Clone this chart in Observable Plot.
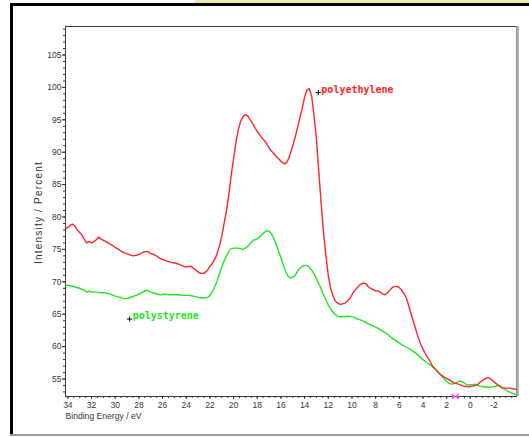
<!DOCTYPE html>
<html><head><meta charset="utf-8">
<script src="https://cdn.jsdelivr.net/npm/d3@7"></script>
<script src="https://cdn.jsdelivr.net/npm/@observablehq/plot@0.6"></script>
<style>
body{margin:0;background:#fff;width:529px;height:437px;overflow:hidden;position:relative}
#chart{position:absolute;left:0;top:0}
.deco{position:absolute;pointer-events:none}
</style></head><body>
<div id="chart"></div>
<div class="deco" style="left:195px;top:0;width:334px;height:3px;background:#efe7b5"></div>
<div class="deco" style="left:10px;top:3px;width:519px;height:3px;background:#000"></div>
<div class="deco" style="left:10px;top:3px;width:3px;height:432px;background:#000"></div>
<div class="deco" style="left:10px;top:434px;width:519px;height:2px;background:#9a9a9a"></div>
<script>
// Polyethylene spectrum (binding energy eV, intensity %)
const peEnergy = [34.2,34.0,33.8,33.6,33.4,33.2,33.0,32.8,32.6,32.4,32.2,32.0,31.8,31.6,31.4,31.2,31.0,30.8,30.5,30.2,30.0,29.7,29.4,29.1,28.8,28.5,28.2,27.9,27.6,27.3,27.0,26.6,26.2,25.8,25.3,24.9,24.5,24.1,23.6,23.2,22.8,22.5,22.2,22.0,21.8,21.5,21.2,21.0,20.8,20.6,20.4,20.2,20.0,19.8,19.6,19.4,19.2,19.0,18.8,18.6,18.4,18.2,18.0,17.8,17.6,17.4,17.2,17.0,16.8,16.6,16.4,16.2,16.0,15.8,15.6,15.4,15.2,15.0,14.8,14.6,14.4,14.2,14.0,13.8,13.6,13.4,13.2,13.0,12.8,12.6,12.4,12.2,12.0,11.8,11.6,11.4,11.2,11.0,10.8,10.6,10.4,10.2,10.0,9.8,9.6,9.4,9.2,9.0,8.8,8.6,8.4,8.2,8.0,7.8,7.6,7.4,7.2,7.0,6.8,6.6,6.4,6.2,6.0,5.8,5.6,5.4,5.2,5.0,4.8,4.6,4.4,4.2,4.0,3.8,3.6,3.4,3.2,3.0,2.6,2.2,1.8,1.4,1.0,0.6,0.2,-0.2,-0.6,-0.9,-1.2,-1.5,-1.8,-2.1,-2.4,-2.7,-3.0,-3.3,-3.6,-3.9];
const peIntensity = [78.2,78.4,78.7,78.9,78.6,78.0,77.6,77.2,76.5,76.0,76.2,76.0,76.2,76.5,76.9,76.6,76.4,76.2,75.9,75.6,75.3,75.0,74.6,74.4,74.2,74.0,74.1,74.3,74.6,74.7,74.4,74.1,73.6,73.3,73.0,72.9,72.6,72.3,72.4,71.8,71.3,71.3,71.8,72.4,72.8,73.8,75.5,77.0,79.0,81.0,83.5,86.5,89.0,91.5,93.5,94.8,95.5,95.8,95.6,95.0,94.5,93.8,93.2,92.7,92.2,91.8,91.3,90.6,90.2,89.8,89.3,89.0,88.6,88.3,88.2,88.8,89.8,91.0,92.3,93.8,95.3,96.8,98.5,99.6,99.8,98.6,95.5,92.0,87.0,82.0,77.5,74.0,71.0,69.0,67.8,67.0,66.7,66.5,66.6,66.7,67.0,67.4,68.0,68.6,69.0,69.4,69.7,69.8,69.7,69.2,69.0,68.8,68.6,68.6,68.4,68.1,68.0,68.3,68.7,69.1,69.3,69.3,69.1,68.7,68.2,67.5,66.3,65.0,63.8,62.6,61.4,60.4,59.6,58.9,58.3,57.7,57.0,56.6,55.8,55.3,54.9,54.4,54.2,53.9,53.8,53.9,54.1,54.6,55.0,55.2,54.9,54.4,54.0,53.6,53.6,53.6,53.5,53.4];
// Polystyrene spectrum
const psEnergy = [34.2,33.8,33.4,33.0,32.6,32.4,32.2,32.0,31.6,31.2,30.8,30.4,30.0,29.6,29.2,28.8,28.4,28.0,27.6,27.3,27.0,26.6,26.2,25.8,25.4,25.0,24.6,24.2,23.8,23.4,23.0,22.6,22.2,22.0,21.8,21.6,21.4,21.2,21.0,20.8,20.6,20.4,20.2,20.0,19.6,19.2,19.0,18.8,18.6,18.4,18.2,18.0,17.8,17.6,17.4,17.2,17.0,16.8,16.6,16.4,16.2,16.0,15.8,15.6,15.4,15.2,15.0,14.8,14.6,14.4,14.2,14.0,13.8,13.6,13.4,13.2,13.0,12.8,12.6,12.4,12.2,12.0,11.8,11.6,11.4,11.2,11.0,10.6,10.2,9.8,9.6,9.4,9.0,8.6,8.2,7.8,7.4,7.0,6.6,6.2,5.8,5.4,5.0,4.6,4.2,3.8,3.4,3.0,2.6,2.2,1.8,1.5,1.2,0.9,0.6,0.3,0.0,-0.4,-0.8,-1.2,-1.6,-2.0,-2.3,-2.6,-3.0,-3.4,-3.9];
const psIntensity = [69.5,69.4,69.2,69.0,68.7,68.4,68.6,68.4,68.4,68.3,68.3,68.1,67.8,67.6,67.4,67.5,67.8,68.1,68.5,68.7,68.4,68.2,68.0,68.1,68.0,68.0,68.0,67.9,67.9,67.8,67.6,67.5,67.6,67.9,68.4,69.2,70.1,71.2,72.3,73.2,74.0,74.7,75.1,75.2,75.2,75.0,75.2,75.5,75.9,76.3,76.5,76.6,76.9,77.3,77.6,77.9,77.8,77.4,76.7,75.8,74.7,73.7,72.6,71.6,70.9,70.6,70.7,71.0,71.6,72.1,72.4,72.5,72.5,72.2,71.8,71.2,70.5,69.7,68.9,68.0,67.2,66.4,65.8,65.3,64.9,64.7,64.6,64.6,64.7,64.5,64.3,64.2,63.9,63.5,63.2,62.8,62.4,61.9,61.3,60.8,60.3,59.9,59.5,59.0,58.3,57.7,57.2,56.6,55.8,55.0,54.3,54.2,54.4,54.7,54.5,54.1,54.1,54.2,53.9,53.8,53.7,53.8,54.0,53.8,53.3,52.9,52.6];

const seriesNames = ["polyethylene", "polystyrene"];
const seriesColors = ["#ff2626", "#1ee81e"];
const labelEnergy = [12.84, 28.78];
const labelIntensity = [99.2, 64.25];
const markerEnergy = [1.27];

const xDomain = [34.2, -3.9];
const yDomain = [52.3, 109.4];
const xMajorTicks = d3.range(34, -3, -2);
const xMinorTicks = d3.range(34, -4, -0.5);
const yMajorTicks = d3.range(55, 106, 5);
const yMinorTicks = d3.range(53, 110, 1);
const xTitle = "Binding Energy / eV";
const yTitle = "Intensity / Percent";

const pe = peEnergy.map((e, i) => ({e, v: peIntensity[i]}));
const ps = psEnergy.map((e, i) => ({e, v: psIntensity[i]}));
const labels = seriesNames.map((name, i) => ({name, e: labelEnergy[i], v: labelIntensity[i], color: seriesColors[i]}));

const bowtie = {draw(ctx) {
  const w = 3.4, h = 3.2;
  ctx.moveTo(-w, -h); ctx.lineTo(0, 0); ctx.lineTo(-w, h); ctx.closePath();
  ctx.moveTo(w, -h); ctx.lineTo(0, 0); ctx.lineTo(w, h); ctx.closePath();
}};

const plot = Plot.plot({
  width: 529, height: 437,
  marginLeft: 65, marginRight: 13, marginTop: 26, marginBottom: 41,
  style: {fontFamily: "'Liberation Sans', Arial, sans-serif", fontSize: "8.5px", color: "#333", background: "transparent"},
  x: {domain: xDomain, label: null},
  y: {domain: yDomain, label: null},
  marks: [
    Plot.frame({stroke: "#3a3a3a"}),
    Plot.ruleX([xDomain[1]], {stroke: "#a9a9a9", strokeWidth: 2.6, dx: 1}),
    Plot.axisY({ticks: yMinorTicks, tickSize: 2, tickFormat: () => "", label: null}),
    Plot.axisY({ticks: yMajorTicks, tickSize: 3, tickPadding: 1, label: null}),
    Plot.axisX({ticks: xMinorTicks, tickSize: 2, tickFormat: () => "", label: null}),
    Plot.axisX({ticks: xMajorTicks, tickSize: 3, tickPadding: 2, tickFormat: d => String(d), label: null}),
    Plot.text([xTitle], {frameAnchor: "bottom-left", textAnchor: "start", lineAnchor: "top", dy: 16, fontSize: 8.6, fill: "#333"}),
    Plot.text([yTitle], {frameAnchor: "left", rotate: -90, textAnchor: "middle", lineAnchor: "middle", dx: -26.5, dy: 1, fontSize: 10, fill: "#333"}),
    Plot.line(ps, {x: "e", y: "v", stroke: seriesColors[1], strokeWidth: 1.4}),
    Plot.line(pe, {x: "e", y: "v", stroke: seriesColors[0], strokeWidth: 1.4}),
    Plot.dot(labels, {x: "e", y: "v", symbol: "plus", r: 1.8, stroke: "#000", strokeWidth: 1}),
    Plot.text(labels, {x: "e", y: "v", text: "name", fill: "color", textAnchor: "start", lineAnchor: "middle", dx: 3, dy: -3, fontFamily: "'DejaVu Sans Mono', monospace", fontWeight: "bold", fontSize: 10}),
    Plot.dot(markerEnergy, {x: d => d, frameAnchor: "bottom", symbol: bowtie, fill: "#ee3cee", stroke: "none"})
  ]
});
document.getElementById("chart").appendChild(plot);
d3.select(plot).selectAll("text").filter(function(){ return this.textContent === yTitle; }).style("letter-spacing", "1.2px");
</script>
</body></html>
